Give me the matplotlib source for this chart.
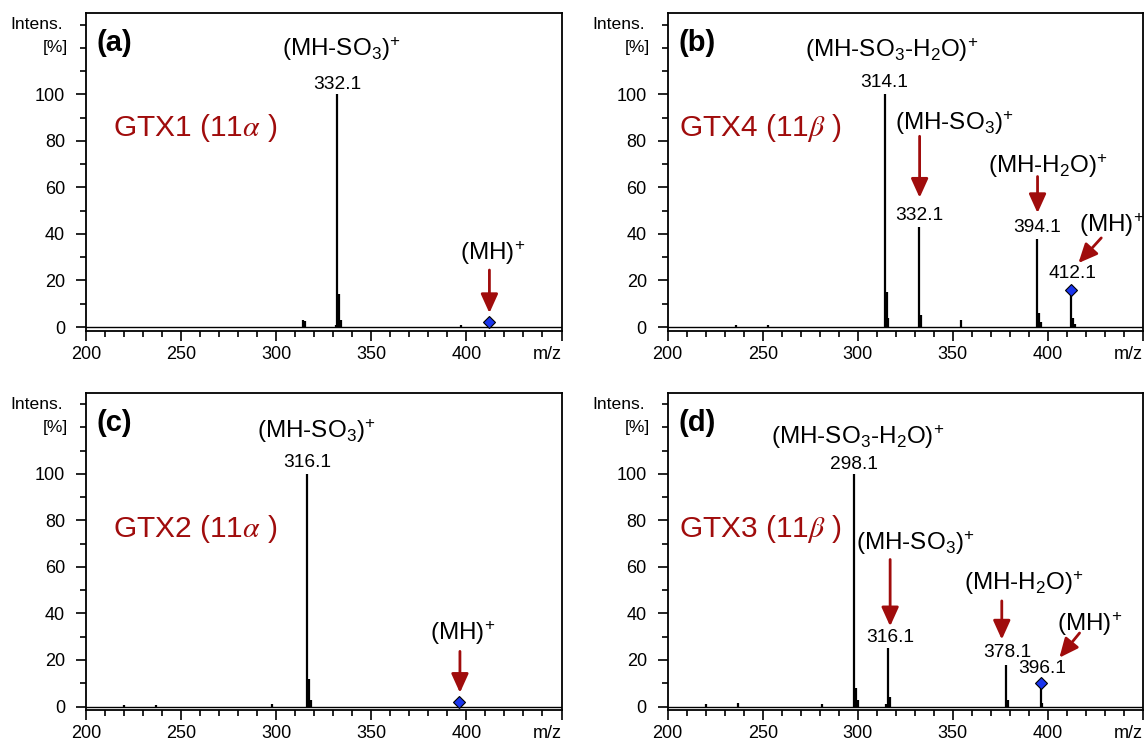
import numpy as np
import matplotlib
matplotlib.use("Agg")
import matplotlib.pyplot as plt
from matplotlib.transforms import blended_transform_factory

plt.rcParams['font.family'] = ['Liberation Sans', 'DejaVu Sans']
plt.rcParams['mathtext.fontset'] = 'custom'
plt.rcParams['mathtext.rm'] = 'Liberation Sans'
plt.rcParams['mathtext.it'] = 'Liberation Sans:italic'
plt.rcParams['mathtext.bf'] = 'Liberation Sans:bold'

# spectra: m/z and relative intensity (%)
mz_a = [314.0, 315.0, 331.3, 332.1, 333.1, 334.1, 397.0, 412.1]
int_a = [3.0, 2.5, 1.0, 100.0, 14.0, 3.0, 1.0, 2.0]

mz_b = [236.0, 253.0, 314.1, 315.1, 316.1, 332.1, 333.1, 354.0, 394.1, 395.1, 396.1, 412.1, 413.1, 414.1]
int_b = [1.0, 1.0, 100.0, 15.0, 4.0, 43.0, 5.0, 3.0, 38.0, 6.0, 2.0, 16.0, 4.0, 1.5]

mz_c = [220.0, 237.0, 298.0, 316.1, 317.1, 318.1, 396.1]
int_c = [0.8, 0.8, 1.0, 100.0, 12.0, 3.0, 2.0]

mz_d = [220.0, 237.0, 281.0, 298.1, 299.1, 300.1, 315.0, 316.1, 317.1, 378.1, 379.1, 396.1, 397.1]
int_d = [1.0, 1.5, 1.0, 100.0, 8.0, 3.0, 1.0, 25.0, 4.0, 18.0, 3.0, 10.0, 1.5]

# protonated molecule (MH)+ for each panel
mh_mz = [412.1, 412.1, 396.1, 396.1]
mh_int = [2.0, 16.0, 2.0, 10.0]

letters = ['(a)', '(b)', '(c)', '(d)']
names = ['GTX1 (11$\\alpha$ )', 'GTX4 (11$\\beta$ )', 'GTX2 (11$\\alpha$ )', 'GTX3 (11$\\beta$ )']

RED = '#a00c0c'
SO3 = '(MH-SO$_3$)$^{+}$'
SO3H2O = '(MH-SO$_3$-H$_2$O)$^{+}$'
H2O = '(MH-H$_2$O)$^{+}$'
MH = '(MH)$^{+}$'

fig = plt.figure(figsize=(11.45, 7.43), dpi=100)
W, H = 1145, 743
boxes = [(86, 330.5), (667.6, 330.5), (86, 710), (667.6, 710)]
axes = [fig.add_axes([x / W, 1 - yb / H, 475.5 / W, 317.5 / H]) for x, yb in boxes]


def arrow(ax, x0, y0, x1, y1):
    ax.annotate('', xy=(x1, y1), xytext=(x0, y0),
                arrowprops=dict(arrowstyle='-|>,head_length=1.15,head_width=0.52',
                                mutation_scale=10, color=RED, lw=2.0,
                                shrinkA=0, shrinkB=0))


def label(ax, x, y, s, size=13.8):
    ax.text(x, y, s, ha='center', va='baseline', fontsize=size)


def setup(ax, mz, inten, k):
    ax.vlines(mz, 0, inten, color='black', lw=1.6)
    ax.axhline(0, color='black', lw=1.0, zorder=1)
    ax.plot(mh_mz[k], mh_int[k], 'D', ms=6, mfc='#1a35ee', mec='black', mew=0.8, zorder=5)
    ax.set_xlim(200, 450)
    ax.set_ylim(-1.5, 135)
    ax.set_xticks([200, 250, 300, 350, 400, 450])
    ax.set_xticklabels(['200', '250', '300', '350', '400', 'm/z'])
    ax.get_xticklabels()[-1].set_ha('right')
    ax.set_xticks(np.arange(200, 451, 10), minor=True)
    ax.set_yticks([0, 20, 40, 60, 80, 100])
    ax.set_yticks(np.arange(0, 131, 10), minor=True)
    ax.tick_params(which='major', direction='out', length=7, width=1.2, labelsize=13, color='black')
    ax.tick_params(which='minor', direction='out', length=4.5, width=1.2, color='black')
    ax.tick_params(axis='y', which='major', pad=8)
    ax.tick_params(axis='x', which='major', pad=4)
    for sp in ax.spines.values():
        sp.set_linewidth(1.3)
    tr = blended_transform_factory(ax.transAxes, ax.transData)
    ax.text(-0.048, 130, 'Intens.', transform=tr, ha='right', va='center', fontsize=12.6)
    ax.text(-0.038, 120, '[%]', transform=tr, ha='right', va='center', fontsize=12.6)
    ax.text(0.023, 0.905, letters[k], transform=ax.transAxes, ha='left', va='center',
            fontsize=21, fontweight='bold')
    ax.text(0.056 if k % 2 == 0 else 0.024, 0.638 if k < 2 else 0.57, names[k],
            transform=ax.transAxes, ha='left', va='center', fontsize=21.5, color=RED,
            math_fontfamily='stix')


ax = axes[0]
setup(ax, mz_a, int_a, 0)
label(ax, 332.1, 102.5, '332.1')
label(ax, 334.5, 116.5, SO3, 17.5)
label(ax, 414.0, 28.6, MH, 17.5)
arrow(ax, 412.1, 24.5, 412.1, 6.0)

ax = axes[1]
setup(ax, mz_b, int_b, 1)
label(ax, 314.1, 103.0, '314.1')
label(ax, 318.0, 116.0, SO3H2O, 17.5)
label(ax, 332.5, 46.0, '332.1')
label(ax, 351.0, 84.6, SO3, 17.5)
arrow(ax, 332.5, 82.0, 332.5, 55.6)
label(ax, 394.5, 41.0, '394.1')
label(ax, 400.0, 66.2, H2O, 17.5)
arrow(ax, 394.5, 64.7, 394.5, 49.0)
label(ax, 413.0, 21.0, '412.1')
label(ax, 433.5, 41.0, MH, 17.5)
arrow(ax, 428.0, 38.3, 416.0, 27.5)

ax = axes[2]
setup(ax, mz_c, int_c, 2)
label(ax, 316.1, 103.0, '316.1')
label(ax, 321.0, 115.5, SO3, 17.5)
label(ax, 398.0, 28.7, MH, 17.5)
arrow(ax, 396.6, 23.7, 396.6, 5.9)

ax = axes[3]
setup(ax, mz_d, int_d, 3)
label(ax, 298.1, 102.0, '298.1')
label(ax, 300.0, 113.0, SO3H2O, 17.5)
label(ax, 317.0, 27.6, '316.1')
label(ax, 330.0, 67.2, SO3, 17.5)
arrow(ax, 317.0, 63.2, 317.0, 34.5)
label(ax, 378.7, 21.4, '378.1')
label(ax, 387.5, 50.0, H2O, 17.5)
arrow(ax, 375.7, 45.4, 375.7, 28.8)
label(ax, 397.0, 14.2, '396.1')
label(ax, 421.7, 32.3, MH, 17.5)
arrow(ax, 416.6, 31.6, 406.0, 21.0)

fig.savefig('out.png', dpi=100)
